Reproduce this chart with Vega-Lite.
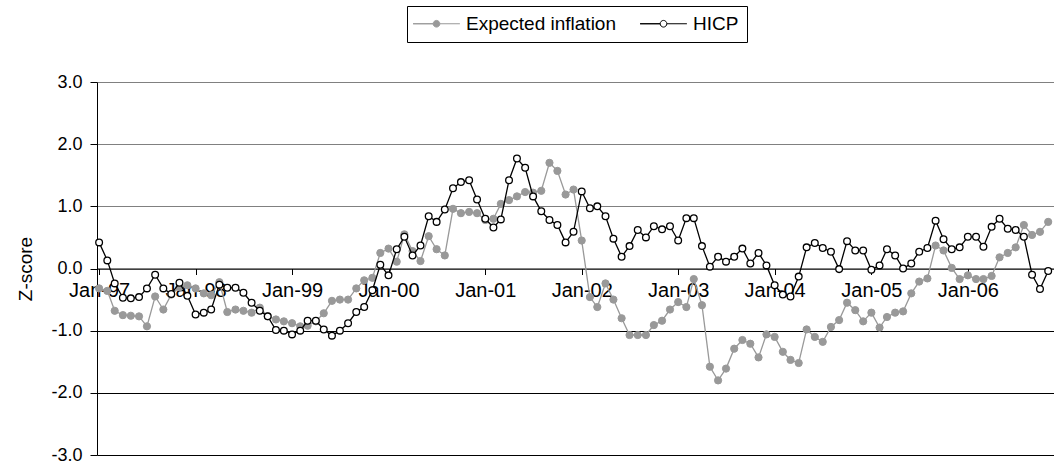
{
 "$schema": "https://vega.github.io/schema/vega-lite/v6.json",
 "width": 957, "height": 373,
 "autosize": {"type": "none"},
 "padding": {"left": 97, "top": 82, "right": 0, "bottom": 8},
 "background": "white",
 "config": {
  "view": {"stroke": null},
  "font": "Liberation Sans",
  "axis": {"labelFont": "Liberation Sans", "titleFont": "Liberation Sans", "labelColor": "black", "titleColor": "black", "labelFontSize": 20, "titleFontSize": 19, "titleFontWeight": "normal"},
  "legend": {"direction": "horizontal", "strokeColor": "black", "padding": 8, "fillColor": "white", "labelFont": "Liberation Sans", "labelFontSize": 19, "labelColor": "black", "symbolSize": 324, "symbolStrokeWidth": 1, "symbolOffset": 12, "labelOffset": 20, "columnPadding": 22}
 },
 "data": {"values": [
  {"m":"1997-01-01","e":-0.32,"h":0.42},{"m":"1997-02-01","e":-0.36,"h":0.13},{"m":"1997-03-01","e":-0.68,"h":-0.24},{"m":"1997-04-01","e":-0.75,"h":-0.47},{"m":"1997-05-01","e":-0.76,"h":-0.48},{"m":"1997-06-01","e":-0.77,"h":-0.46},{"m":"1997-07-01","e":-0.93,"h":-0.32},{"m":"1997-08-01","e":-0.45,"h":-0.10},{"m":"1997-09-01","e":-0.66,"h":-0.32},{"m":"1997-10-01","e":-0.42,"h":-0.41},{"m":"1997-11-01","e":-0.30,"h":-0.23},{"m":"1997-12-01","e":-0.27,"h":-0.44},
  {"m":"1998-01-01","e":-0.32,"h":-0.74},{"m":"1998-02-01","e":-0.40,"h":-0.71},{"m":"1998-03-01","e":-0.43,"h":-0.66},{"m":"1998-04-01","e":-0.22,"h":-0.26},{"m":"1998-05-01","e":-0.70,"h":-0.31},{"m":"1998-06-01","e":-0.66,"h":-0.31},{"m":"1998-07-01","e":-0.68,"h":-0.39},{"m":"1998-08-01","e":-0.71,"h":-0.55},{"m":"1998-09-01","e":-0.63,"h":-0.68},{"m":"1998-10-01","e":-0.77,"h":-0.77},{"m":"1998-11-01","e":-0.82,"h":-0.99},{"m":"1998-12-01","e":-0.85,"h":-1.00},
  {"m":"1999-01-01","e":-0.88,"h":-1.06},{"m":"1999-02-01","e":-0.93,"h":-1.00},{"m":"1999-03-01","e":-0.92,"h":-0.84},{"m":"1999-04-01","e":-0.85,"h":-0.84},{"m":"1999-05-01","e":-0.72,"h":-0.98},{"m":"1999-06-01","e":-0.52,"h":-1.08},{"m":"1999-07-01","e":-0.50,"h":-1.00},{"m":"1999-08-01","e":-0.50,"h":-0.88},{"m":"1999-09-01","e":-0.32,"h":-0.70},{"m":"1999-10-01","e":-0.19,"h":-0.62},{"m":"1999-11-01","e":-0.15,"h":-0.35},{"m":"1999-12-01","e":0.25,"h":0.06},
  {"m":"2000-01-01","e":0.32,"h":-0.11},{"m":"2000-02-01","e":0.11,"h":0.31},{"m":"2000-03-01","e":0.55,"h":0.51},{"m":"2000-04-01","e":0.28,"h":0.21},{"m":"2000-05-01","e":0.12,"h":0.37},{"m":"2000-06-01","e":0.52,"h":0.84},{"m":"2000-07-01","e":0.31,"h":0.75},{"m":"2000-08-01","e":0.21,"h":0.95},{"m":"2000-09-01","e":0.96,"h":1.29},{"m":"2000-10-01","e":0.89,"h":1.39},{"m":"2000-11-01","e":0.91,"h":1.42},{"m":"2000-12-01","e":0.89,"h":1.11},
  {"m":"2001-01-01","e":0.78,"h":0.80},{"m":"2001-02-01","e":0.80,"h":0.66},{"m":"2001-03-01","e":1.04,"h":0.79},{"m":"2001-04-01","e":1.10,"h":1.42},{"m":"2001-05-01","e":1.16,"h":1.77},{"m":"2001-06-01","e":1.23,"h":1.62},{"m":"2001-07-01","e":1.22,"h":1.16},{"m":"2001-08-01","e":1.25,"h":0.92},{"m":"2001-09-01","e":1.70,"h":0.78},{"m":"2001-10-01","e":1.57,"h":0.70},{"m":"2001-11-01","e":1.19,"h":0.42},{"m":"2001-12-01","e":1.27,"h":0.59},
  {"m":"2002-01-01","e":0.45,"h":1.24},{"m":"2002-02-01","e":-0.46,"h":0.97},{"m":"2002-03-01","e":-0.62,"h":1.00},{"m":"2002-04-01","e":-0.24,"h":0.84},{"m":"2002-05-01","e":-0.50,"h":0.48},{"m":"2002-06-01","e":-0.80,"h":0.19},{"m":"2002-07-01","e":-1.07,"h":0.36},{"m":"2002-08-01","e":-1.07,"h":0.62},{"m":"2002-09-01","e":-1.07,"h":0.50},{"m":"2002-10-01","e":-0.91,"h":0.68},{"m":"2002-11-01","e":-0.84,"h":0.63},{"m":"2002-12-01","e":-0.66,"h":0.68},
  {"m":"2003-01-01","e":-0.54,"h":0.45},{"m":"2003-02-01","e":-0.62,"h":0.81},{"m":"2003-03-01","e":-0.17,"h":0.81},{"m":"2003-04-01","e":-0.59,"h":0.36},{"m":"2003-05-01","e":-1.58,"h":0.03},{"m":"2003-06-01","e":-1.80,"h":0.19},{"m":"2003-07-01","e":-1.61,"h":0.11},{"m":"2003-08-01","e":-1.29,"h":0.19},{"m":"2003-09-01","e":-1.15,"h":0.32},{"m":"2003-10-01","e":-1.21,"h":0.08},{"m":"2003-11-01","e":-1.43,"h":0.25},{"m":"2003-12-01","e":-1.06,"h":0.05},
  {"m":"2004-01-01","e":-1.10,"h":-0.27},{"m":"2004-02-01","e":-1.34,"h":-0.42},{"m":"2004-03-01","e":-1.47,"h":-0.45},{"m":"2004-04-01","e":-1.52,"h":-0.13},{"m":"2004-05-01","e":-0.98,"h":0.34},{"m":"2004-06-01","e":-1.10,"h":0.41},{"m":"2004-07-01","e":-1.18,"h":0.33},{"m":"2004-08-01","e":-0.94,"h":0.27},{"m":"2004-09-01","e":-0.83,"h":-0.01},{"m":"2004-10-01","e":-0.55,"h":0.44},{"m":"2004-11-01","e":-0.67,"h":0.29},{"m":"2004-12-01","e":-0.85,"h":0.29},
  {"m":"2005-01-01","e":-0.71,"h":-0.02},{"m":"2005-02-01","e":-0.95,"h":0.05},{"m":"2005-03-01","e":-0.78,"h":0.31},{"m":"2005-04-01","e":-0.71,"h":0.21},{"m":"2005-05-01","e":-0.69,"h":0.00},{"m":"2005-06-01","e":-0.40,"h":0.08},{"m":"2005-07-01","e":-0.21,"h":0.27},{"m":"2005-08-01","e":-0.16,"h":0.33},{"m":"2005-09-01","e":0.37,"h":0.77},{"m":"2005-10-01","e":0.29,"h":0.47},{"m":"2005-11-01","e":0.01,"h":0.31},{"m":"2005-12-01","e":-0.17,"h":0.34},
  {"m":"2006-01-01","e":-0.11,"h":0.51},{"m":"2006-02-01","e":-0.17,"h":0.51},{"m":"2006-03-01","e":-0.17,"h":0.35},{"m":"2006-04-01","e":-0.12,"h":0.67},{"m":"2006-05-01","e":0.18,"h":0.80},{"m":"2006-06-01","e":0.25,"h":0.64},{"m":"2006-07-01","e":0.34,"h":0.62},{"m":"2006-08-01","e":0.70,"h":0.51},{"m":"2006-09-01","e":0.54,"h":-0.10},{"m":"2006-10-01","e":0.59,"h":-0.33},{"m":"2006-11-01","e":0.75,"h":-0.04}
 ]},
 "transform": [{"fold": ["e", "h"], "as": ["k", "v"]}],
 "encoding": {
  "x": {"field": "m", "type": "temporal",
   "scale": {"type": "utc", "domain": [{"year": 1996, "month": 12, "date": 24, "utc": true}, {"year": 2006, "month": 11, "date": 23, "utc": true}]},
   "axis": {"title": null, "labelExpr": "utcFormat(datum.value, '%b-%y')",
    "values": [{"year":1997,"month":1,"date":1,"utc":true},{"year":1998,"month":1,"date":1,"utc":true},{"year":1999,"month":1,"date":1,"utc":true},{"year":2000,"month":1,"date":1,"utc":true},{"year":2001,"month":1,"date":1,"utc":true},{"year":2002,"month":1,"date":1,"utc":true},{"year":2003,"month":1,"date":1,"utc":true},{"year":2004,"month":1,"date":1,"utc":true},{"year":2005,"month":1,"date":1,"utc":true},{"year":2006,"month":1,"date":1,"utc":true}],
    "offset": -186.5, "grid": false, "domainColor": "black", "tickColor": "black", "tickSize": 6, "labelPadding": 6, "labelFlush": false, "labelOverlap": false, "labelAlign": "center"}},
  "y": {"field": "v", "type": "quantitative", "scale": {"domain": [-3, 3], "nice": false},
   "axis": {"title": "Z-score", "values": [-3, -2, -1, 0, 1, 2, 3],
    "labelExpr": "datum.value < 0 ? '-' + format(-datum.value, '.1f') : format(datum.value, '.1f')",
    "labelFontSize": 18,
    "grid": true, "gridColor": {"condition": {"test": "datum.value < 0", "value": "black"}, "value": "#808080"},
    "domainColor": "black", "tickColor": "black", "tickSize": 7, "labelPadding": 8, "titlePadding": 15}}
 },
 "layer": [
  {"transform": [{"filter": "datum.k == 'e'"}],
   "mark": {"type": "line", "strokeWidth": 1.3},
   "encoding": {"stroke": {"field": "k", "type": "nominal", "scale": {"domain": ["e", "h"], "range": ["#999999", "#000000"]},
     "legend": {"title": null, "orient": "none", "legendX": 310, "legendY": -76, "labelExpr": "datum.label == 'e' ? 'Expected inflation' : 'HICP'", "symbolType": "M-2.6,0H-0.37A0.37,0.37 0 1,1 0.37,0A0.37,0.37 0 1,1 -0.37,0ZM0.37,0H2.6"}}}},
  {"transform": [{"filter": "datum.k == 'e'"}],
   "mark": {"type": "point", "shape": "circle", "filled": true, "size": 52, "strokeWidth": 1, "opacity": 1},
   "encoding": {
    "stroke": {"field": "k", "type": "nominal", "scale": {"domain": ["e", "h"], "range": ["#999999", "#000000"]},
     "legend": {"title": null, "orient": "none", "legendX": 310, "legendY": -76, "labelExpr": "datum.label == 'e' ? 'Expected inflation' : 'HICP'", "symbolType": "M-2.6,0H-0.37A0.37,0.37 0 1,1 0.37,0A0.37,0.37 0 1,1 -0.37,0ZM0.37,0H2.6"}},
    "fill": {"field": "k", "type": "nominal", "scale": {"domain": ["e", "h"], "range": ["#999999", "#ffffff"]},
     "legend": {"title": null, "orient": "none", "legendX": 310, "legendY": -76, "labelExpr": "datum.label == 'e' ? 'Expected inflation' : 'HICP'", "symbolType": "M-2.6,0H-0.37A0.37,0.37 0 1,1 0.37,0A0.37,0.37 0 1,1 -0.37,0ZM0.37,0H2.6"}}}},
  {"transform": [{"filter": "datum.k == 'h'"}],
   "mark": {"type": "line", "strokeWidth": 1.3},
   "encoding": {"stroke": {"field": "k", "type": "nominal", "scale": {"domain": ["e", "h"], "range": ["#999999", "#000000"]},
     "legend": {"title": null, "orient": "none", "legendX": 310, "legendY": -76, "labelExpr": "datum.label == 'e' ? 'Expected inflation' : 'HICP'", "symbolType": "M-2.6,0H-0.37A0.37,0.37 0 1,1 0.37,0A0.37,0.37 0 1,1 -0.37,0ZM0.37,0H2.6"}}}},
  {"transform": [{"filter": "datum.k == 'h'"}],
   "mark": {"type": "point", "shape": "circle", "filled": true, "size": 45, "strokeWidth": 1.3, "opacity": 1},
   "encoding": {
    "stroke": {"field": "k", "type": "nominal", "scale": {"domain": ["e", "h"], "range": ["#999999", "#000000"]},
     "legend": {"title": null, "orient": "none", "legendX": 310, "legendY": -76, "labelExpr": "datum.label == 'e' ? 'Expected inflation' : 'HICP'", "symbolType": "M-2.6,0H-0.37A0.37,0.37 0 1,1 0.37,0A0.37,0.37 0 1,1 -0.37,0ZM0.37,0H2.6"}},
    "fill": {"field": "k", "type": "nominal", "scale": {"domain": ["e", "h"], "range": ["#999999", "#ffffff"]},
     "legend": {"title": null, "orient": "none", "legendX": 310, "legendY": -76, "labelExpr": "datum.label == 'e' ? 'Expected inflation' : 'HICP'", "symbolType": "M-2.6,0H-0.37A0.37,0.37 0 1,1 0.37,0A0.37,0.37 0 1,1 -0.37,0ZM0.37,0H2.6"}}}}
 ]
}
